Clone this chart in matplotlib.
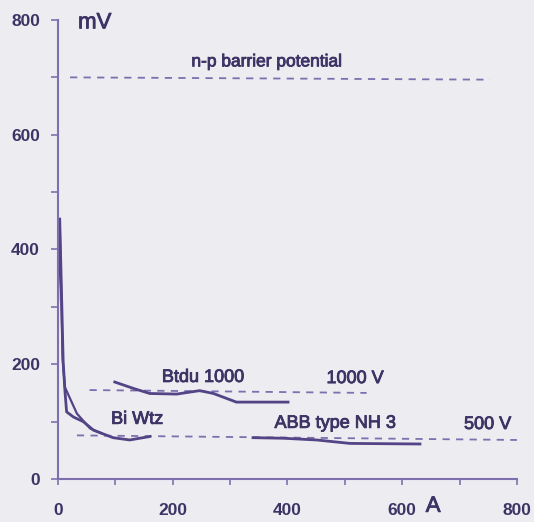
import matplotlib
matplotlib.use("Agg")
import matplotlib.pyplot as plt
import matplotlib.patheffects as pe
import numpy as np

INK = "#3d3364"
LINE = "#524485"
DASH = "#7e70ae"
BG = "#ececf1"

# Bi Wtz, two traces near zero current
biwtz_a_x = [3, 9, 12, 15, 27, 44, 62, 96, 125, 160]
biwtz_a_y = [453, 205, 155, 117, 108, 100, 85, 72, 68, 74]
biwtz_b_x = [0, 3, 8, 12, 33, 56, 75]
biwtz_b_y = [310, 445, 210, 160, 114, 88, 80]

# Btdu 1000
btdu_x = [99, 131, 160, 207, 247, 271, 311, 401]
btdu_y = [169, 158, 149, 148, 154, 149, 134, 134]

# ABB type NH 3
abb_x = [340, 393, 451, 509, 631]
abb_y = [72, 71, 68, 62, 61]

# reference levels (dashed)
barrier_x = [21, 753]
barrier_y = [700, 696]
v1000_x = [55, 538]
v1000_y = [155, 150]
v500_x = [33, 800]
v500_y = [76, 68]

fig = plt.figure(figsize=(5.34, 5.22), dpi=100)
fig.patch.set_facecolor(BG)
ax = fig.add_axes([0.1086, 0.0824, 0.8594, 0.8793])
ax.set_facecolor(BG)

for xs, ys in [(barrier_x, barrier_y), (v1000_x, v1000_y), (v500_x, v500_y)]:
    ax.plot(xs, ys, color=DASH, lw=1.3, ls=(0, (4, 3.5)))

ax.plot(biwtz_a_x, biwtz_a_y, color=LINE, lw=2)
ax.plot(biwtz_b_x, biwtz_b_y, color=LINE, lw=1.6)
ax.plot(btdu_x, btdu_y, color=LINE, lw=2)
ax.plot(abb_x, abb_y, color=LINE, lw=2)

ax.set_xlim(0, 800)
ax.set_ylim(0, 800)
ax.set_xticks(np.arange(0, 801, 200))
ax.set_yticks(np.arange(0, 801, 200))
ax.set_xticks(np.arange(100, 800, 200), minor=True)
ax.set_yticks(np.arange(100, 800, 200), minor=True)
ax.tick_params(which="both", direction="out", color=DASH, length=5, width=1.2,
               labelcolor=INK, labelsize=12.5)
ax.tick_params(axis="x", which="both", length=4, pad=13)
ax.tick_params(axis="y", which="both", pad=8)
for lab in ax.get_xticklabels() + ax.get_yticklabels():
    lab.set_fontfamily("Liberation Sans")
    lab.set_fontweight("bold")

for side in ["top", "right"]:
    ax.spines[side].set_visible(False)
for side in ["left", "bottom"]:
    ax.spines[side].set_color(DASH)
    ax.spines[side].set_linewidth(1.5)

# scanned print looks a bit heavier than plain regular weight
heavy = [pe.withStroke(linewidth=0.6, foreground=INK)]
font = dict(family="Liberation Sans", color=INK, path_effects=heavy)
ax.text(35, 795, "mV", fontsize=16, ha="left", va="center", **font)
ax.text(654, -66, "A", fontsize=16, ha="center", va="bottom", clip_on=False, **font)
ax.text(364, 727, "n-p barrier potential", fontsize=12.5, ha="center", va="center", **font)
ax.text(253, 177, "Btdu 1000", fontsize=13, ha="center", va="center", **font)
ax.text(518, 175, "1000 V", fontsize=13, ha="center", va="center", **font)
ax.text(138, 104, "Bi Wtz", fontsize=13, ha="center", va="center", **font)
ax.text(483, 97, "ABB type NH 3", fontsize=13, ha="center", va="center", **font)
ax.text(749, 95, "500 V", fontsize=13, ha="center", va="center", **font)

fig.savefig("out.png", dpi=100, facecolor=BG)
